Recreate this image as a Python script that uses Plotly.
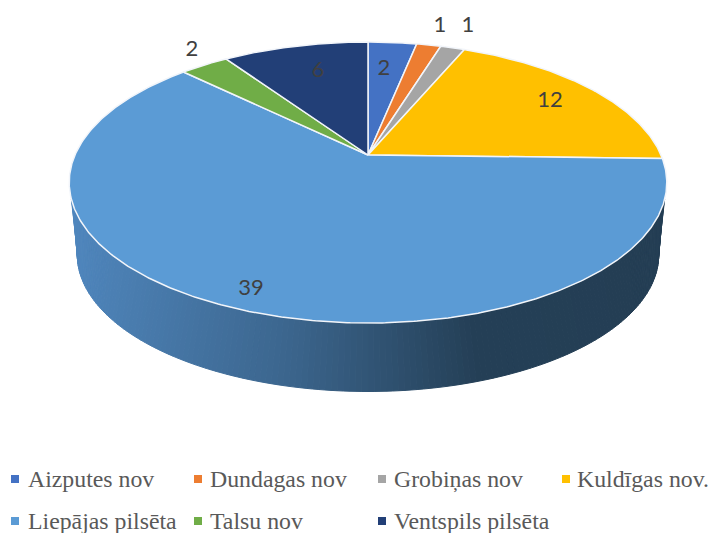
import math
import numpy as np
import plotly.graph_objects as go

categories = ["Aizputes nov", "Dundagas nov", "Grobiņas nov", "Kuldīgas nov.",
              "Liepājas pilsēta", "Talsu nov", "Ventspils pilsēta"]
values = [2, 1, 1, 12, 39, 2, 6]
colors = ["#4472c4", "#ed7d31", "#a5a5a5", "#ffc000", "#5b9bd5", "#70ad47", "#223f77"]

# value-label anchor positions (page pixels)
label_x = [384, 440, 468, 550, 251, 192, 318]
label_y = [69, 26, 26, 101, 289, 50, 71]
# legend layout (page pixels)
legend_marker_x = [15, 198, 382, 566, 15, 198, 382]
legend_text_x = [28, 210, 394, 577, 28, 210, 394]
legend_marker_y = [479, 479, 479, 479, 521, 521, 521]
legend_text_y = [481, 481, 481, 481, 523, 523, 523]

# perspective disc projection
CX, CY, A, B, K = 368.0, 155.0, 293.0, 135.1, 0.196
BASE_CY, BASE_S = 228.0, 0.973


def project(theta_deg, cy=CY, s=1.0):
    t = np.radians(theta_deg)
    u, v = np.sin(t), np.cos(t)
    d = 1 + K * v
    return CX + s * A * u / d, cy - s * B * v / d


def side_color(x):
    stops = [(70, (80, 135, 190)), (290, (60, 102, 142)), (470, (37, 64, 87)), (670, (36, 62, 84))]
    xs = [p[0] for p in stops]
    rgb = [int(np.interp(x, xs, [p[1][i] for p in stops])) for i in range(3)]
    return "rgb(%d,%d,%d)" % tuple(rgb)


fig = go.Figure()

# extruded side wall
top_edges = np.linspace(108, 252, 161)
base_edges = np.linspace(100, 260, 161)
for i in range(160):
    xa, ya = project(top_edges[i:i + 2])
    xb, yb = project(base_edges[i:i + 2][::-1], BASE_CY, BASE_S)
    col = side_color(float(xa.mean()))
    fig.add_trace(go.Scatter(
        x=list(xa) + list(xb) + [xa[0]], y=list(ya) + list(yb) + [ya[0]],
        mode="lines", fill="toself", fillcolor=col, line=dict(color=col, width=1),
        hoverinfo="skip", showlegend=False))

# top slices
total = sum(values)
start = 0.0
for name, val, col in zip(categories, values, colors):
    end = start + val / total * 360
    arc = np.linspace(start, end, max(3, int((end - start) * 2)))
    px, py = project(arc)
    fig.add_trace(go.Scatter(
        x=[CX] + list(px) + [CX], y=[CY] + list(py) + [CY],
        mode="lines", fill="toself", fillcolor=col,
        line=dict(color="#f2f5fa", width=1.5), name=name,
        hoverinfo="name", showlegend=False))
    start = end

# value labels
fig.add_trace(go.Scatter(
    x=label_x, y=label_y, mode="text", text=[str(v) for v in values],
    textposition="middle center",
    textfont=dict(family="Lato", size=22, color="#404040"),
    hoverinfo="skip", showlegend=False))

# legend
fig.add_trace(go.Scatter(
    x=legend_marker_x, y=legend_marker_y, mode="markers",
    marker=dict(symbol="square", size=8, color=colors),
    hoverinfo="skip", showlegend=False))
fig.add_trace(go.Scatter(
    x=legend_text_x, y=legend_text_y, mode="text", text=categories,
    textposition="middle right",
    textfont=dict(family="Liberation Serif", size=23.8, color="#595959"),
    hoverinfo="skip", showlegend=False))

fig.update_layout(
    width=712, height=533, margin=dict(l=0, r=0, t=0, b=0),
    paper_bgcolor="white", plot_bgcolor="white",
    xaxis=dict(range=[0, 712], visible=False, fixedrange=True),
    yaxis=dict(range=[533, 0], visible=False, fixedrange=True),
)
fig.write_html("out.html", post_script="document.body.style.margin='0';document.body.style.overflow='hidden';",
               config={"displayModeBar": False})
